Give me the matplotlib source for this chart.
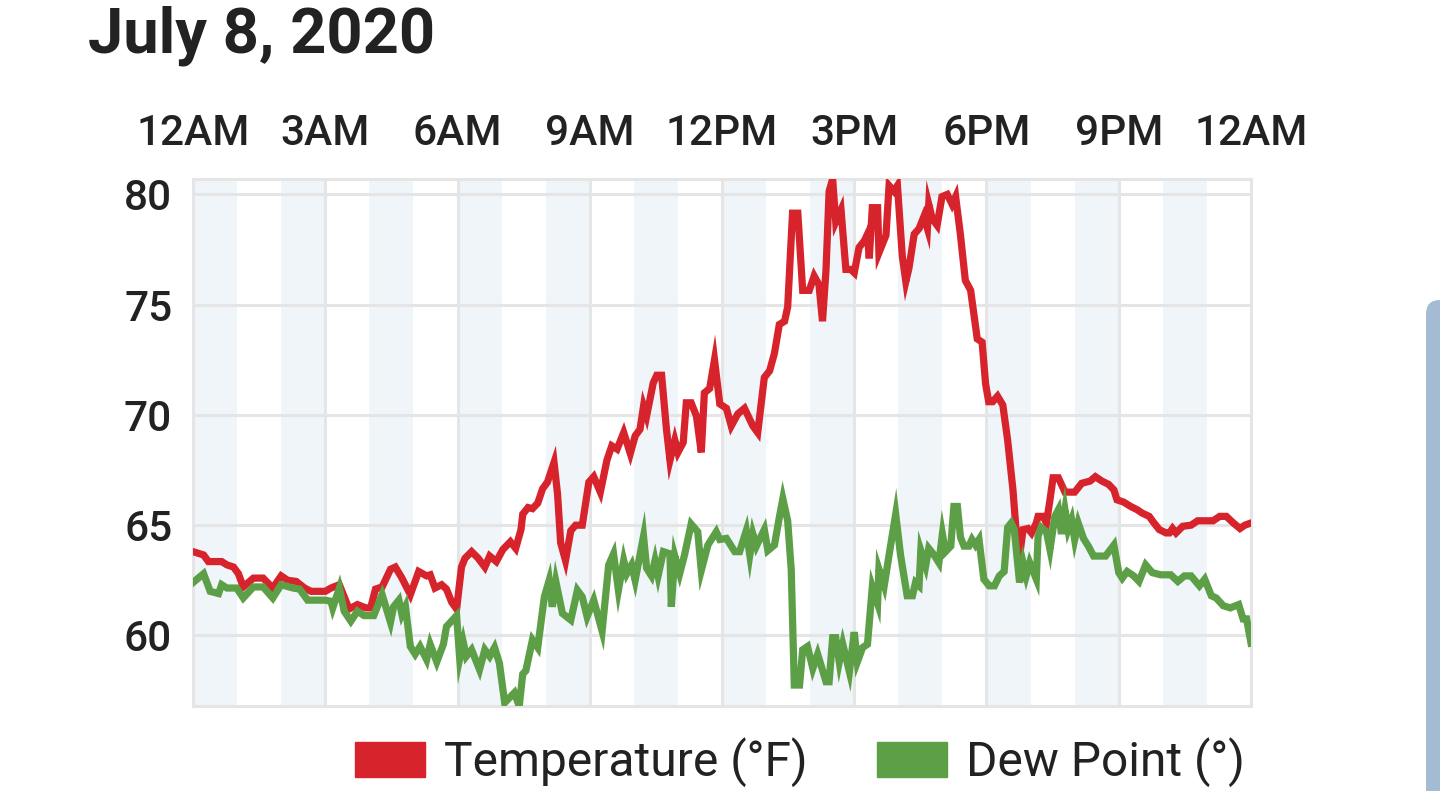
import matplotlib
matplotlib.use("Agg")
import matplotlib.pyplot as plt
from matplotlib.patches import Patch, FancyBboxPatch

plt.rcParams['font.family'] = ['Roboto', 'DejaVu Sans']

title = "July 8, 2020"
hour_ticks = [0, 3, 6, 9, 12, 15, 18, 21, 24]
hour_labels = ["12AM", "3AM", "6AM", "9AM", "12PM", "3PM", "6PM", "9PM", "12AM"]
y_ticks = [60, 65, 70, 75, 80]
band_starts = list(range(0, 24, 2))  # shaded hour, every other hour

temp_hours = [
    0.0, 0.24, 0.35, 0.65, 0.77, 0.92, 1.03, 1.14, 1.37, 1.59, 1.81, 2.0, 2.15, 2.34, 2.53, 2.68,
    3.0, 3.13, 3.32, 3.54, 3.73, 3.92, 4.03, 4.14, 4.29, 4.48, 4.59, 4.74, 4.93, 5.12, 5.3, 5.38,
    5.49, 5.64, 5.75, 5.87, 5.98, 6.09, 6.17, 6.32, 6.47, 6.62, 6.73, 6.88, 7.03, 7.2, 7.32, 7.44,
    7.48, 7.6, 7.7, 7.82, 7.93, 8.04, 8.19, 8.27, 8.34, 8.45, 8.57, 8.68, 8.83, 8.98, 9.09, 9.24,
    9.39, 9.5, 9.62, 9.77, 9.92, 10.03, 10.14, 10.22, 10.29, 10.44, 10.52, 10.63, 10.74, 10.82,
    10.93, 11.0, 11.12, 11.19, 11.3, 11.42, 11.53, 11.6, 11.72, 11.83, 11.95, 12.1, 12.21, 12.36,
    12.51, 12.7, 12.81, 12.96, 13.08, 13.19, 13.3, 13.42, 13.49, 13.6, 13.72, 13.83, 13.98, 14.09,
    14.2, 14.28, 14.36, 14.43, 14.51, 14.58, 14.7, 14.81, 14.92, 15.0, 15.11, 15.23, 15.3, 15.34,
    15.41, 15.53, 15.56, 15.72, 15.79, 15.9, 15.98, 16.09, 16.17, 16.24, 16.36, 16.47, 16.58,
    16.66, 16.69, 16.77, 16.88, 16.99, 17.11, 17.22, 17.3, 17.41, 17.52, 17.64, 17.79, 17.9,
    17.98, 18.05, 18.14, 18.25, 18.37, 18.48, 18.6, 18.67, 18.75, 18.83, 18.94, 19.02, 19.13,
    19.17, 19.28, 19.36, 19.44, 19.51, 19.63, 19.78, 20.0, 20.16, 20.35, 20.47, 20.62, 20.77,
    20.89, 20.96, 21.11, 21.27, 21.42, 21.53, 21.69, 21.8, 21.92, 22.07, 22.15, 22.22, 22.3,
    22.45, 22.64, 22.79, 23.14, 23.29, 23.44, 23.6, 23.75, 23.86, 24.0]
temp_values = [
    63.8, 63.65, 63.35, 63.35, 63.2, 63.1, 62.8, 62.2, 62.6, 62.6, 62.15, 62.7, 62.5, 62.45, 62.15, 62.0,
    62.0, 62.15, 62.3, 61.2, 61.4, 61.25, 61.25, 62.1, 62.2, 63.0, 63.1, 62.6, 61.85, 62.9, 62.7, 62.75,
    62.15, 62.3, 62.1, 61.5, 61.2, 63.1, 63.5, 63.8, 63.5, 63.1, 63.6, 63.35, 63.9, 64.25, 63.95, 64.8,
    65.5, 65.8, 65.75, 66.0, 66.65, 66.95, 67.85, 66.4, 64.2, 63.4, 64.75, 65.0, 65.0, 66.95, 67.2, 66.5,
    67.95, 68.6, 68.45, 69.2, 68.25, 69.05, 69.35, 70.4, 69.95, 71.45, 71.8, 71.8, 69.35, 67.95,
    68.85, 68.3, 68.75, 70.55, 70.55, 69.95, 68.3, 71.0, 71.2, 72.5, 70.5, 70.3, 69.5, 70.05,
    70.3, 69.5, 69.2, 71.7, 72.0, 72.8, 74.1, 74.25, 74.9, 79.15, 79.15, 75.65, 75.65, 76.3,
    75.9, 74.25, 76.6, 80.15, 80.7, 78.75, 79.3, 76.6, 76.6, 76.45, 77.6, 77.9, 78.2, 77.1,
    79.4, 79.4, 77.35, 78.15, 80.4, 80.15, 80.4, 77.2, 76.05, 76.65, 78.2, 78.45, 79.0,
    78.45, 79.55, 78.9, 78.6, 79.9, 80.0, 79.55, 79.9, 78.15, 76.1, 75.65, 73.45, 73.3,
    71.4, 70.6, 70.6, 70.85, 70.45, 68.85, 66.6, 64.8, 63.6, 64.8, 64.85, 64.65, 65.1,
    65.4, 65.4, 65.1, 66.15, 67.15, 67.15, 66.5, 66.5, 66.9, 67.0, 67.2, 67.0, 66.85,
    66.6, 66.15, 66.05, 65.85, 65.7, 65.55, 65.4, 65.1, 64.8, 64.65, 64.65, 64.85, 64.65,
    64.95, 65.0, 65.2, 65.2, 65.4, 65.4, 65.1, 64.85, 65.0, 65.1]

dew_hours = [
    0.0, 0.24, 0.39, 0.58, 0.65, 0.77, 0.99, 1.14, 1.37, 1.59, 1.81, 2.0, 2.27, 2.42, 2.6, 3.0,
    3.13, 3.17, 3.32, 3.43, 3.58, 3.73, 3.88, 4.1, 4.29, 4.48, 4.55, 4.67, 4.74, 4.82, 4.93, 5.04,
    5.15, 5.3, 5.38, 5.53, 5.68, 5.75, 5.98, 6.05, 6.13, 6.2, 6.32, 6.5, 6.62, 6.73, 6.84, 6.95,
    7.07, 7.29, 7.4, 7.48, 7.55, 7.7, 7.82, 7.97, 8.08, 8.15, 8.23, 8.38, 8.57, 8.72, 8.83, 8.94,
    9.09, 9.28, 9.43, 9.54, 9.65, 9.77, 9.84, 9.95, 10.03, 10.22, 10.29, 10.4, 10.48, 10.55,
    10.67, 10.82, 10.85, 10.93, 11.04, 11.15, 11.3, 11.45, 11.53, 11.68, 11.87, 11.95, 12.1,
    12.29, 12.4, 12.55, 12.63, 12.7, 12.78, 12.85, 12.96, 13.04, 13.19, 13.3, 13.38, 13.49,
    13.57, 13.64, 13.76, 13.83, 13.94, 14.06, 14.17, 14.36, 14.43, 14.51, 14.58, 14.66, 14.74,
    14.89, 15.0, 15.07, 15.19, 15.3, 15.41, 15.53, 15.56, 15.68, 15.79, 15.94, 16.05, 16.2,
    16.32, 16.39, 16.47, 16.51, 16.62, 16.69, 16.81, 16.92, 17.0, 17.07, 17.19, 17.26, 17.34,
    17.41, 17.49, 17.6, 17.67, 17.75, 17.83, 17.94, 18.06, 18.18, 18.29, 18.4, 18.48, 18.56,
    18.63, 18.75, 18.83, 18.9, 18.98, 19.06, 19.13, 19.17, 19.24, 19.36, 19.44, 19.55, 19.63,
    19.7, 19.78, 19.85, 19.93, 20.0, 20.08, 20.2, 20.31, 20.43, 20.7, 20.89, 21.0, 21.08,
    21.19, 21.34, 21.46, 21.61, 21.76, 21.95, 22.18, 22.34, 22.49, 22.64, 22.83, 22.95, 23.1,
    23.21, 23.37, 23.53, 23.72, 23.82, 23.9, 24.0]
dew_values = [
    62.4, 62.8, 62.0, 61.9, 62.3, 62.15, 62.15, 61.7, 62.2, 62.2, 61.7, 62.3, 62.15, 62.1, 61.6, 61.6,
    61.55, 61.25, 62.15, 61.1, 60.65, 61.1, 60.9, 60.9, 61.85, 60.6, 61.3, 61.6, 60.95, 61.3, 59.5, 59.15,
    59.5, 58.9, 59.6, 58.8, 59.6, 60.4, 60.9, 58.95, 59.7, 59.05, 59.35, 58.45, 59.35, 59.05, 59.45, 58.75,
    56.95, 57.4, 56.8, 58.25, 58.4, 59.8, 59.45, 61.75, 62.5, 61.3, 62.45, 61.0, 60.7, 62.05, 61.75, 60.85,
    61.6, 60.2, 63.2, 63.7, 62.05, 63.4, 62.8, 63.2, 62.5, 64.5, 63.05, 62.7, 63.4, 62.7,
    63.8, 63.7, 61.3, 63.6, 62.8, 63.65, 65.05, 64.7, 62.95, 64.1, 64.7, 64.35, 64.4,
    63.8, 63.8, 64.75, 63.65, 64.6, 64.05, 64.35, 64.8, 63.85, 64.1, 65.35, 66.2, 65.2,
    63.0, 57.75, 57.75, 59.35, 59.5, 58.5, 59.15, 57.9, 57.9, 59.9, 59.9, 58.8, 59.6,
    58.35, 60.15, 58.8, 59.45, 59.6, 62.2, 61.45, 63.0, 62.25, 63.65, 65.5, 63.65, 61.8,
    61.8, 62.4, 62.25, 63.85, 63.15, 63.95, 63.65, 63.3, 64.6, 63.8, 64.05, 65.85, 65.85,
    64.45, 64.05, 64.05, 64.35, 64.1, 64.35, 62.55, 62.25, 62.25, 62.7, 62.9, 64.9, 65.1,
    64.8, 62.4, 63.3, 62.7, 63.3, 62.9, 62.55, 64.5, 64.9, 64.7, 63.9, 65.4, 65.7,
    64.6, 65.7, 64.8, 65.25, 64.35, 65.1, 64.4, 64.05, 63.6, 63.6, 64.1, 62.85, 62.6,
    62.9, 62.7, 62.45, 63.2, 62.85, 62.75, 62.75, 62.45, 62.7, 62.7, 62.25, 62.55, 61.8,
    61.7, 61.35, 61.25, 61.4, 60.75, 60.75, 59.65]

RED = "#d7232b"
GREEN = "#5c9f47"
GRID = "#e5e5e5"
BAND = "#f0f5fa"
TEXT = "#222222"

fig = plt.figure(figsize=(14.4, 7.91), dpi=100)
ax = fig.add_axes([193 / 1440, 1 - 706 / 791, (1251 - 193) / 1440, (706 - 179) / 791])

for h in band_starts:
    ax.axvspan(h, h + 1, color=BAND, lw=0, zorder=0)

ax.plot(temp_hours, temp_values, color=RED, lw=5.2, zorder=3, solid_joinstyle="miter")
ax.plot(dew_hours, dew_values, color=GREEN, lw=5.2, zorder=3, solid_joinstyle="miter")

ax.set_xlim(0, 24)
ax.set_ylim(min(dew_values), max(temp_values))

ax.xaxis.tick_top()
ax.set_xticks(hour_ticks)
ax.set_xticklabels(hour_labels, fontweight="medium")
ax.set_yticks(y_ticks)
ax.set_yticklabels([str(v) for v in y_ticks], fontweight="medium")
ax.tick_params(axis="x", length=0, pad=18, labelsize=30.5, labelcolor=TEXT)
ax.tick_params(axis="y", length=0, pad=15, labelsize=30.5, labelcolor=TEXT)
ax.grid(True, color=GRID, lw=2.2, zorder=1)
ax.set_axisbelow(True)
for s in ax.spines.values():
    s.set_color(GRID)
    s.set_linewidth(2.2)

fig.text(88 / 1440, 1 - 52 / 791, title, fontsize=45.5, fontweight="bold",
         color=TEXT, ha="left", va="baseline")

handles = [Patch(color=RED, label="Temperature (°F)"),
           Patch(color=GREEN, label="Dew Point (°)")]
fig.legend(handles=handles, loc="center", bbox_to_anchor=(800 / 1440, 1 - 762 / 791),
           ncol=2, frameon=False, fontsize=34.5, handlelength=1.45, handleheight=0.75,
           handletextpad=0.4, columnspacing=1.45, labelcolor=TEXT, borderpad=0)

# scroll bar shape at right edge of the screenshot
fig.patches.append(FancyBboxPatch((1426, -40), 40, 531, boxstyle="round,pad=0,rounding_size=14",
                                  transform=None, color="#a3bcd4", lw=0))

fig.savefig("out.png", dpi=100)
